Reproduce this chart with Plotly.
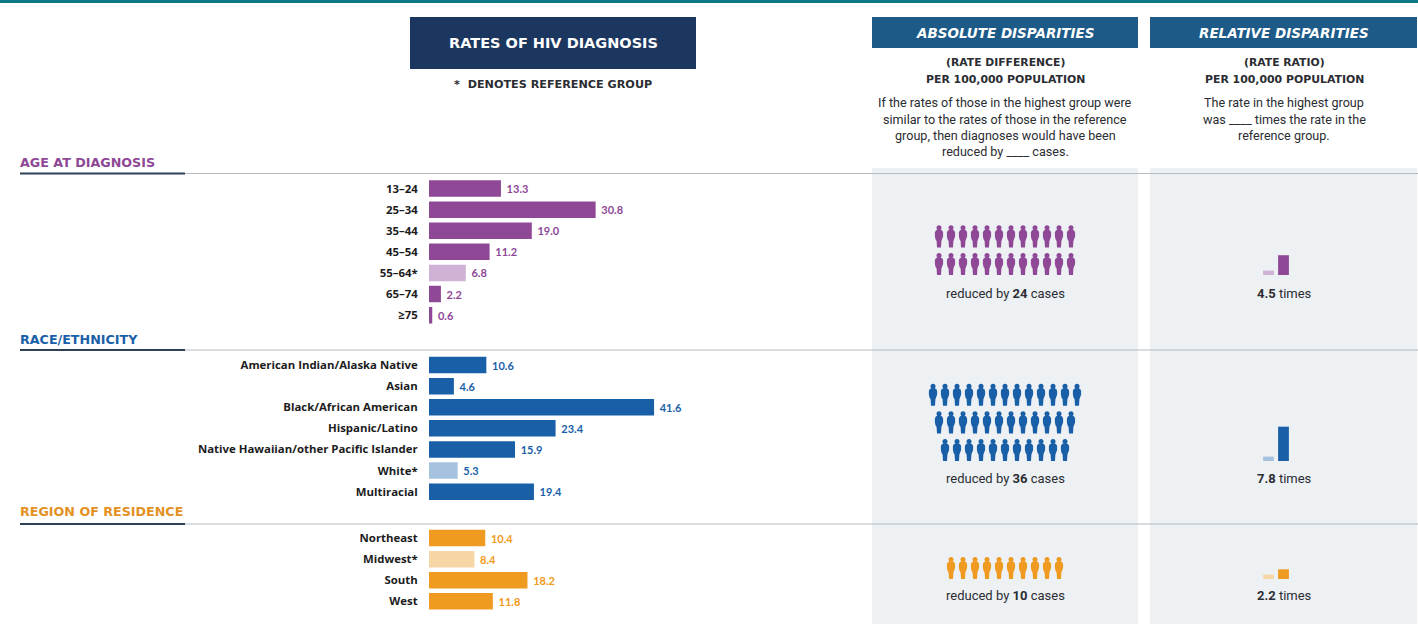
import plotly.graph_objects as go

W, H = 1418, 624

age_labels = ["13–24", "25–34", "35–44", "45–54", "55–64*", "65–74", "≥75"]
age_rates = [13.3, 30.8, 19.0, 11.2, 6.8, 2.2, 0.6]
race_labels = ["American Indian/Alaska Native", "Asian", "Black/African American", "Hispanic/Latino",
               "Native Hawaiian/other Pacific Islander", "White*", "Multiracial"]
race_rates = [10.6, 4.6, 41.6, 23.4, 15.9, 5.3, 19.4]
region_labels = ["Northeast", "Midwest*", "South", "West"]
region_rates = [10.4, 8.4, 18.2, 11.8]

age_icon_rows = [12, 12]
race_icon_rows = [13, 12, 11]
region_icon_rows = [10]

ratio_categories = ["Reference group", "Highest group"]
age_ratio = 4.5
race_ratio = 7.8
region_ratio = 2.2

LABEL_FONT = "Open Sans"
VALUE_FONT = "Lato"
HEAD_FONT = "DejaVu Sans"
BODY_FONT = "Roboto"
INK = "#2a2d32"

groups = [
    dict(title="AGE AT DIAGNOSIS", labels=age_labels, rates=age_rates, color="#8e4896", light="#cfb2d5",
         title_color="#8e4896", top=178.0, line=173.5, title_y=163, rows=age_icon_rows, icon_bottom=275,
         ratio=age_ratio, text_y=293, n=24, rtext="4.5"),
    dict(title="RACE/ETHNICITY", labels=race_labels, rates=race_rates, color="#195fa8", light="#a5c2de",
         title_color="#195fa8", top=354.5, line=350, title_y=339, rows=race_icon_rows, icon_bottom=461,
         ratio=race_ratio, text_y=478.5, n=36, rtext="7.8"),
    dict(title="REGION OF RESIDENCE", labels=region_labels, rates=region_rates, color="#ef9a20", light="#f7d6a6",
         title_color="#e3911f", top=527.5, line=524, title_y=511, rows=region_icon_rows, icon_bottom=579,
         ratio=region_ratio, text_y=595, n=10, rtext="2.2"),
]

ROW = 21.1
PX_PER_RATE = 5.41
BAR_L, BAR_R = 429, 720
PX_PER_RATIO = 4.4


def yfrac(px):
    return 1 - px / H


fig = go.Figure()
layout = {}
layout["xaxis"] = dict(domain=[BAR_L / W, BAR_R / W], range=[0, (BAR_R - BAR_L) / PX_PER_RATE],
                       visible=False, anchor="y", fixedrange=True)

for i, g in enumerate(groups):
    yname = "y" if i == 0 else f"y{i + 1}"
    lname = "yaxis" if i == 0 else f"yaxis{i + 1}"
    bottom = g["top"] + ROW * len(g["labels"])
    layout[lname] = dict(domain=[yfrac(bottom), yfrac(g["top"])], type="category",
                         categoryorder="array", categoryarray=g["labels"], autorange="reversed",
                         anchor="x", showgrid=False, zeroline=False, showline=False,
                         ticks="outside", ticklen=8, tickcolor="rgba(0,0,0,0)",
                         tickfont=dict(family=LABEL_FONT, size=11.4, color="#1c1c1c", weight="bold"),
                         fixedrange=True)
    colors = [g["light"] if l.endswith("*") else g["color"] for l in g["labels"]]
    fig.add_bar(x=g["rates"], y=g["labels"], orientation="h", xaxis="x", yaxis=yname,
                marker=dict(color=colors, line=dict(width=0)),
                text=[f"\u00a0{v:.1f}" for v in g["rates"]], textposition="outside", cliponaxis=False,
                textfont=dict(family=VALUE_FONT, size=11, color=g["color"], weight="bold"),
                showlegend=False, width=0.78)

    # small ratio bars
    k = i + 4
    span = 40
    layout[f"xaxis{k}"] = dict(domain=[1261 / W, 1291 / W], type="category", categoryorder="array",
                               categoryarray=ratio_categories, visible=False, anchor=f"y{k}", fixedrange=True)
    layout[f"yaxis{k}"] = dict(domain=[yfrac(g["icon_bottom"]), yfrac(g["icon_bottom"] - span)],
                               range=[0, span / PX_PER_RATIO], visible=False, anchor=f"x{k}", fixedrange=True)
    fig.add_bar(x=ratio_categories, y=[1, g["ratio"]], xaxis=f"x{k}", yaxis=f"y{k}",
                marker=dict(color=[g["light"], g["color"]], line=dict(width=0)),
                showlegend=False, width=0.72)

# overlay axis for pictograms, one unit = one pixel
layout["xaxis7"] = dict(domain=[0, 1], range=[0, W], visible=False, anchor="y7", fixedrange=True)
layout["yaxis7"] = dict(domain=[0, 1], range=[H, 0], visible=False, anchor="x7", fixedrange=True)

BODY_X = [-1.2, 1.2, 3.2, 4.1, 4.1, 3.4, 2.4, 2.0, 0.3, -0.3, -2.0, -2.4, -3.4, -4.1, -4.1, -3.2, -1.2]
BODY_Y = [4.2, 4.2, 5.2, 7.0, 11.0, 14.0, 15.5, 22, 22, 22, 22, 15.5, 14.0, 11.0, 7.0, 5.2, 4.2]
PITCH_X, PITCH_Y = 12.0, 27.6
CENTER_X = 1005

for g in groups:
    bx, by, hx, hy = [], [], [], []
    nrows = len(g["rows"])
    for r, count in enumerate(g["rows"]):
        top = g["icon_bottom"] - 22 - (nrows - 1 - r) * PITCH_Y
        for c in range(count):
            cx = CENTER_X + (c - (count - 1) / 2) * PITCH_X
            bx += [cx + v for v in BODY_X] + [None]
            by += [top + v for v in BODY_Y] + [None]
            hx.append(cx)
            hy.append(top + 2.4)
    fig.add_scatter(x=bx, y=by, mode="lines", fill="toself", fillcolor=g["color"], line=dict(width=0, color=g["color"]),
                    xaxis="x7", yaxis="y7", showlegend=False, hoverinfo="skip")
    fig.add_scatter(x=hx, y=hy, mode="markers", marker=dict(size=5, color=g["color"], line=dict(width=0)),
                    xaxis="x7", yaxis="y7", showlegend=False, hoverinfo="skip")

shapes = []


def rect(x0, y0, x1, y1, color, layer="below"):
    shapes.append(dict(type="rect", xref="paper", yref="paper", x0=x0 / W, x1=x1 / W,
                       y0=yfrac(y1), y1=yfrac(y0), fillcolor=color, line=dict(width=0), layer=layer))


rect(0, 0, W, 3, "#0f7a85")
rect(410, 17, 696, 69, "#1b365f")
rect(872, 17, 1138, 48, "#1d5a88")
rect(1150, 17, 1417, 48, "#1d5a88")
rect(872, 168, 1138, H, "#eef1f4")
rect(1150, 168, 1417, H, "#eef1f4")
for g in groups:
    rect(20, g["line"] - 0.4, W, g["line"] + 0.6, "#b4bbc2")
    rect(20, g["line"] - 0.9, 185, g["line"] + 1.1, "#2f4058")

annos = []


def text(x, y, s, size, color=INK, family=BODY_FONT, weight="normal", style="normal", anchor="center"):
    annos.append(dict(xref="paper", yref="paper", x=x / W, y=yfrac(y), text=s, showarrow=False,
                      xanchor=anchor, yanchor="middle",
                      font=dict(family=family, size=size, color=color, weight=weight, style=style)))


text(553, 43, "RATES OF HIV DIAGNOSIS", 14.5, "#ffffff", HEAD_FONT, "bold")
text(553, 85, "*  DENOTES REFERENCE GROUP", 11.2, INK, HEAD_FONT, "bold")
text(1005, 33, "ABSOLUTE DISPARITIES", 13.5, "#ffffff", HEAD_FONT, "bold", "italic")
text(1284, 33, "RELATIVE DISPARITIES", 13.5, "#ffffff", HEAD_FONT, "bold", "italic")
text(1005, 63, "(RATE DIFFERENCE)", 10.8, INK, HEAD_FONT, "bold")
text(1005, 79, "PER 100,000 POPULATION", 10.9, INK, HEAD_FONT, "bold")
text(1284, 63, "(RATE RATIO)", 10.8, INK, HEAD_FONT, "bold")
text(1284, 79, "PER 100,000 POPULATION", 10.9, INK, HEAD_FONT, "bold")
for y, s in zip([103, 119, 135, 151], ["If the rates of those in the highest group were",
                                       "similar to the rates of those in the reference",
                                       "group, then diagnoses would have been",
                                       "reduced by ____ cases."]):
    text(1005, y, s, 12.6)
for y, s in zip([103, 119, 135], ["The rate in the highest group", "was ____ times the rate in the",
                                  "reference group."]):
    text(1284, y, s, 12.6)
for g in groups:
    text(18, g["title_y"], g["title"], 12.7, g["title_color"], HEAD_FONT, "bold", anchor="left")
    text(1005, g["text_y"], f"reduced by <b>{g['n']}</b> cases", 13)
    text(1284, g["text_y"], f"<b>{g['rtext']}</b> times", 13)

fig.update_layout(width=W, height=H, margin=dict(l=0, r=0, t=0, b=0), paper_bgcolor="#ffffff",
                  plot_bgcolor="rgba(0,0,0,0)", barmode="overlay", showlegend=False,
                  shapes=shapes, annotations=annos, **layout)
fig.write_html("out.html", config=dict(displayModeBar=False),
               post_script="document.body.style.margin='0';document.documentElement.style.overflow='hidden';")
